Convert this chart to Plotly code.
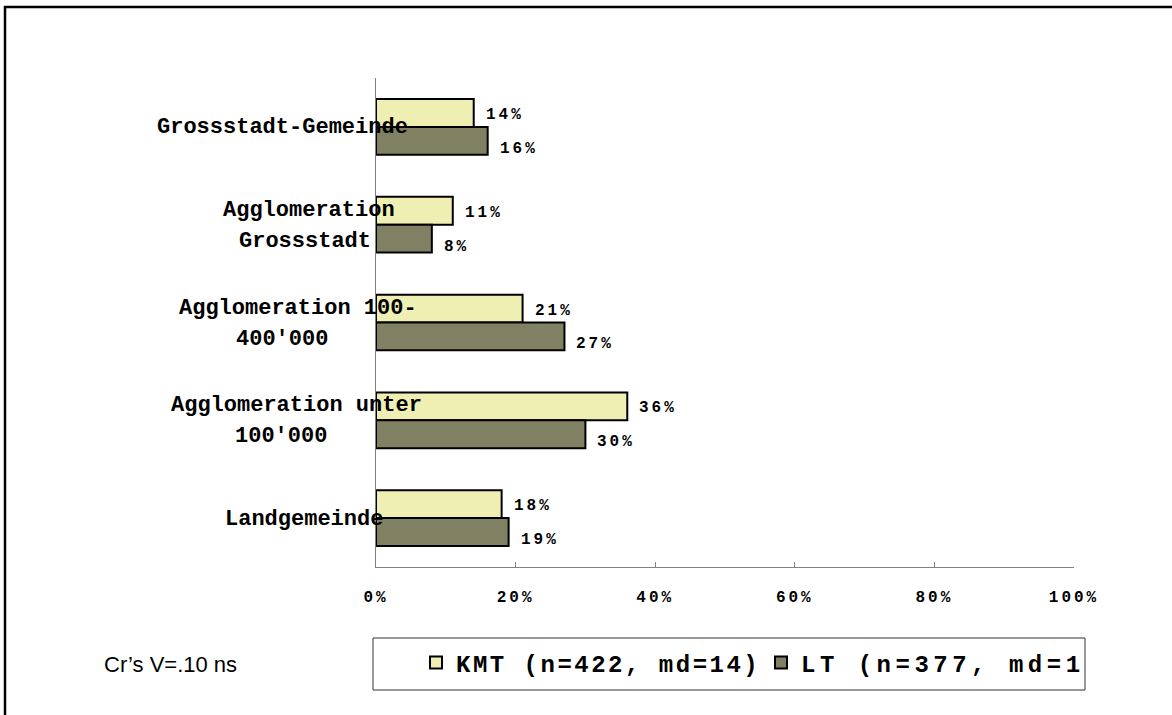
import plotly.graph_objects as go

# ---- data ----
categories = [
    "Grossstadt-Gemeinde",
    "Agglomeration\nGrossstadt",
    "Agglomeration 100-\n400'000",
    "Agglomeration unter\n100'000",
    "Landgemeinde",
]
kmt_values = [0.14, 0.11, 0.21, 0.36, 0.18]
lt_values = [0.16, 0.08, 0.27, 0.30, 0.19]
kmt_name = "KMT (n=422, md=14)"
lt_name = "LT (n=377, md=1"
tick_values = [0, 0.2, 0.4, 0.6, 0.8, 1.0]
tick_labels = ["0%", "20%", "40%", "60%", "80%", "100%"]
stat_note = "Cr\u2019s V=.10 ns"

# ---- layout geometry (pixels) ----
W, H = 1172, 715
ML, MR, MT, MB = 376, 98, 78, 148
PW, PH = W - ML - MR, H - MT - MB

# horizontal centre (px) of each line of the category labels
LABEL_CENTERS = [[282], [309, 305], [298, 282], [296, 281], [304]]
LINE_GAP = 31


def px_x(px):
    return (px - ML) / PW


def px_y(py):
    return (H - MB - py) / PH


MONO = "Liberation Mono, Courier New, monospace"
KMT_COLOR = "#EFEFB4"
LT_COLOR = "#808062"


def spaced(text, gap):
    return f'<span style="letter-spacing:{gap}px">{text}</span>'


pos = list(range(len(categories)))

fig = go.Figure()
fig.add_trace(go.Bar(
    y=pos, x=kmt_values, orientation="h", name=spaced(kmt_name, 2.5),
    marker=dict(color=KMT_COLOR, line=dict(color="black", width=2)),
    legend="legend",
))
fig.add_trace(go.Bar(
    y=pos, x=lt_values, orientation="h", name=spaced(lt_name, 4.5),
    marker=dict(color=LT_COLOR, line=dict(color="black", width=2)),
    legend="legend2",
))

annotations = []
# value labels next to each bar
half = (1 - 0.43) / 4
value_font = dict(family=MONO, size=16, color="black", weight="bold")
for i, (k, l) in enumerate(zip(kmt_values, lt_values)):
    annotations.append(dict(
        x=k, y=i - half, xref="x", yref="y", text=spaced(f"{k*100:.0f}%", 3),
        showarrow=False, xanchor="left", xshift=10, yshift=-2, font=value_font,
    ))
    annotations.append(dict(
        x=l, y=i + half, xref="x", yref="y", text=spaced(f"{l*100:.0f}%", 3),
        showarrow=False, xanchor="left", xshift=10, yshift=-8, font=value_font,
    ))

# category labels, one annotation per line, left of the axis
for i, c in enumerate(categories):
    lines = c.split("\n")
    n = len(lines)
    for j, line in enumerate(lines):
        annotations.append(dict(
            x=px_x(LABEL_CENTERS[i][j]), y=i, xref="paper", yref="y", text=line,
            showarrow=False, xanchor="center", yanchor="middle",
            yshift=((n - 1) / 2 - j) * LINE_GAP - 1,
            font=dict(family=MONO, size=22, color="black", weight="bold"),
        ))

annotations.append(dict(
    x=px_x(102), y=px_y(664), xref="paper", yref="paper", text=stat_note,
    showarrow=False, xanchor="left", yanchor="middle",
    font=dict(family="Liberation Sans, Arial, sans-serif", size=22, color="black"),
))

shapes = [
    # outer frame
    dict(type="rect", xref="paper", yref="paper",
         x0=px_x(5), x1=px_x(1190), y0=px_y(730), y1=px_y(7),
         line=dict(color="black", width=2.5), fillcolor="rgba(0,0,0,0)", layer="below"),
    # legend box
    dict(type="rect", xref="paper", yref="paper",
         x0=px_x(373), x1=px_x(1085), y0=px_y(690), y1=px_y(638),
         line=dict(color="#333333", width=1), fillcolor="white", layer="below"),
]

legend_common = dict(
    orientation="v", yanchor="middle", xanchor="left", y=px_y(663),
    font=dict(family=MONO, size=24, color="black", weight="bold"),
    itemwidth=30, bgcolor="rgba(0,0,0,0)", borderwidth=0,
)

fig.update_layout(
    width=W, height=H,
    margin=dict(l=ML, r=MR, t=MT, b=MB, pad=0),
    paper_bgcolor="white", plot_bgcolor="white",
    barmode="group", bargap=0.43, bargroupgap=0,
    showlegend=True,
    legend=dict(x=px_x(416), **legend_common),
    legend2=dict(x=px_x(761), **legend_common),
    xaxis=dict(
        range=[0, 1], tickvals=tick_values,
        ticktext=[spaced(t, 3) for t in tick_labels],
        ticks="inside", ticklen=5, tickcolor="#808080", tickwidth=1,
        showline=True, linecolor="#808080", linewidth=1,
        showgrid=False, zeroline=False, ticklabelstandoff=15,
        tickfont=dict(family=MONO, size=16, color="black", weight="bold"),
        fixedrange=True,
    ),
    yaxis=dict(
        range=[len(categories) - 0.5, -0.5], showticklabels=False, ticks="",
        showline=True, linecolor="#808080", linewidth=1,
        showgrid=False, zeroline=False, fixedrange=True,
    ),
    annotations=annotations,
    shapes=shapes,
)

fig.write_html("out.html", config={"displayModeBar": False})
